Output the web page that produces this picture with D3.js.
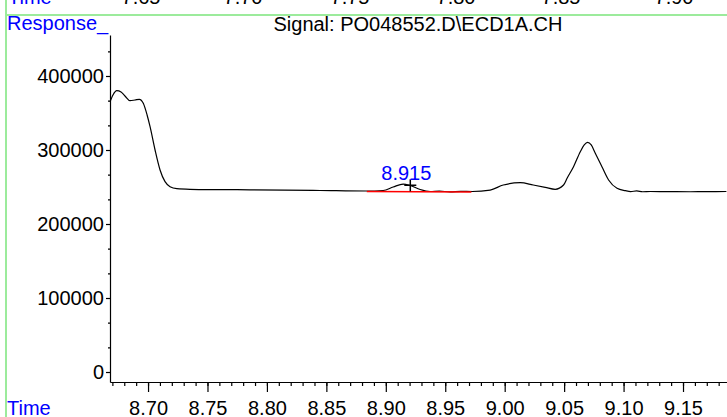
<!DOCTYPE html>
<html>
<head>
<meta charset="utf-8">
<script src="https://cdn.jsdelivr.net/npm/d3@7"></script>
<style>
  body { margin: 0; background: #fff; }
  svg text { font-family: "Liberation Sans", Arial, sans-serif; }
</style>
</head>
<body>
<svg id="chart" width="727" height="417"></svg>
<script>
// signal trace (time in min, response counts)
var times = [8.668, 8.6705, 8.6737, 8.6773, 8.6806, 8.6849, 8.6891, 8.6927, 8.6960, 8.6992,
    8.7017, 8.7059, 8.7101, 8.7143, 8.7185, 8.7242, 8.7353, 8.7600, 8.7858, 8.8150,
    8.8448, 8.8835, 8.8978, 8.9062, 8.9146, 8.9205, 8.9289, 8.9373, 8.9450, 8.9542,
    8.9630, 8.9727, 8.9878, 8.9988, 9.0131, 9.0240, 9.0341, 9.0425, 9.0495, 9.0526,
    9.0579, 9.0636, 9.0669, 9.0697, 9.0728, 9.0762, 9.0818, 9.0874, 9.0945, 9.1015,
    9.1060, 9.1110, 9.1160, 9.1225, 9.1400, 9.1562, 9.1700, 9.1865];
var responses = [365000, 374300, 380100, 378400, 373000, 366600, 367600, 368500, 363100, 347300,
    331500, 300000, 273000, 257200, 250400, 247700, 246900, 246500, 246200, 245800,
    245300, 244600, 245300, 250000, 254000, 252000, 246600, 243900, 244400, 243500,
    244200, 243900, 245900, 252700, 255800, 252700, 249600, 246900, 252700, 262200,
    277400, 297700, 306800, 310400, 306800, 295500, 277400, 259500, 248200, 245000,
    243800, 244800, 243600, 243900, 243800, 243600, 243700, 243900];

// integration baseline under the 8.915 peak
var baseTimes = [8.884, 8.972];
var baseValues = [244000, 243400];

var peakTime = 8.9206, peakValue = 252500, peakLabel = "8.915";

var xTicks = [8.70, 8.75, 8.80, 8.85, 8.90, 8.95, 9.00, 9.05, 9.10, 9.15];
var yTicks = [0, 100000, 200000, 300000, 400000];
var title = "Signal: PO048552.D\\ECD1A.CH";
// labels of the panel above, cut off by the window edge
var upperLabels = ["7.65", "7.70", "7.75", "7.80", "7.85", "7.90"];
var upperPos = [141, 243, 350, 456, 561, 674];

var svg = d3.select('#chart');

var x = d3.scaleLinear().domain([8.668, 9.187]).range([110, 727]);
var y = d3.scaleLinear().domain([-13500, 455400]).range([382, 35]);

/*
 * frame of the report page
 */
svg.append('line').attr('x1', 6).attr('x2', 6).attr('y1', 0).attr('y2', 417)
    .attr('stroke', '#9ceb9c').attr('stroke-width', 2);
svg.append('line').attr('x1', 6).attr('x2', 727).attr('y1', 15).attr('y2', 15)
    .attr('stroke', '#9ceb9c').attr('stroke-width', 2);

svg.append('text').attr('x', 8).attr('y', 4).attr('fill', '#0000ff')
    .style('font-size', '20px').text('Time');
svg.selectAll('.upper').data(upperLabels).enter().append('text')
    .attr('x', function(d, i) { return upperPos[i]; }).attr('y', 4)
    .attr('text-anchor', 'middle').style('font-size', '20px').text(function(d) { return d; });

svg.append('text').attr('x', 7).attr('y', 30).attr('fill', '#0000ff')
    .style('font-size', '20px').text('Response_');
svg.append('text').attr('x', 418).attr('y', 31).attr('text-anchor', 'middle')
    .style('font-size', '20px').text(title);
svg.append('text').attr('x', 7).attr('y', 415).attr('fill', '#0000ff')
    .style('font-size', '20px').text('Time');

/*
 * axes
 */
var minorX = d3.range(8.67, 9.19, 0.01).filter(function(t) { return t <= 9.187; });
svg.append('g').attr('transform', 'translate(0,382)')
    .call(d3.axisBottom(x).tickValues(minorX).tickSize(4).tickFormat('').tickSizeOuter(0))
    .call(function(g) { g.select('.domain').remove(); });

var xAxis = svg.append('g').attr('transform', 'translate(0,382)')
    .call(d3.axisBottom(x).tickValues(xTicks).tickSize(10).tickPadding(9)
        .tickFormat(d3.format('.2f')).tickSizeOuter(0));
xAxis.selectAll('text').style('font-size', '20px').attr('fill', '#000');

var minorY = d3.range(0, 455000, 100000 / 3);
svg.append('g').attr('transform', 'translate(110,0)')
    .call(d3.axisLeft(y).tickValues(minorY).tickSize(2).tickFormat('').tickSizeOuter(0))
    .call(function(g) { g.select('.domain').remove(); });

var yAxis = svg.append('g').attr('transform', 'translate(110,0)')
    .call(d3.axisLeft(y).tickValues(yTicks).tickSize(4).tickPadding(2)
        .tickFormat(d3.format('d')).tickSizeOuter(0));
yAxis.selectAll('text').style('font-size', '20px').attr('fill', '#000');

svg.selectAll('.domain, .tick line').attr('stroke', '#000').attr('stroke-width', 1.2);

/*
 * trace, baseline and peak mark
 */
var trace = d3.line()
    .x(function(d, i) { return x(times[i]); })
    .y(function(d) { return y(d); })
    .curve(d3.curveMonotoneX);

svg.append('path').datum(responses).attr('d', trace)
    .attr('fill', 'none').attr('stroke', '#000').attr('stroke-width', 1.2);

svg.append('line')
    .attr('x1', x(baseTimes[0])).attr('y1', y(baseValues[0]))
    .attr('x2', x(baseTimes[1])).attr('y2', y(baseValues[1]))
    .attr('stroke', '#ff0000').attr('stroke-width', 1.5);

var px = x(peakTime), py = y(peakValue);
svg.append('path').attr('d', 'M' + (px - 6) + ',' + py + 'H' + (px + 6) + 'M' + px + ',' + (py - 6) + 'V' + (py + 6))
    .attr('stroke', '#000').attr('stroke-width', 1.5);

svg.append('text').attr('x', px - 4).attr('y', py - 5).attr('text-anchor', 'middle')
    .attr('fill', '#0000ff').style('font-size', '20px').text(peakLabel);
</script>
</body>
</html>
